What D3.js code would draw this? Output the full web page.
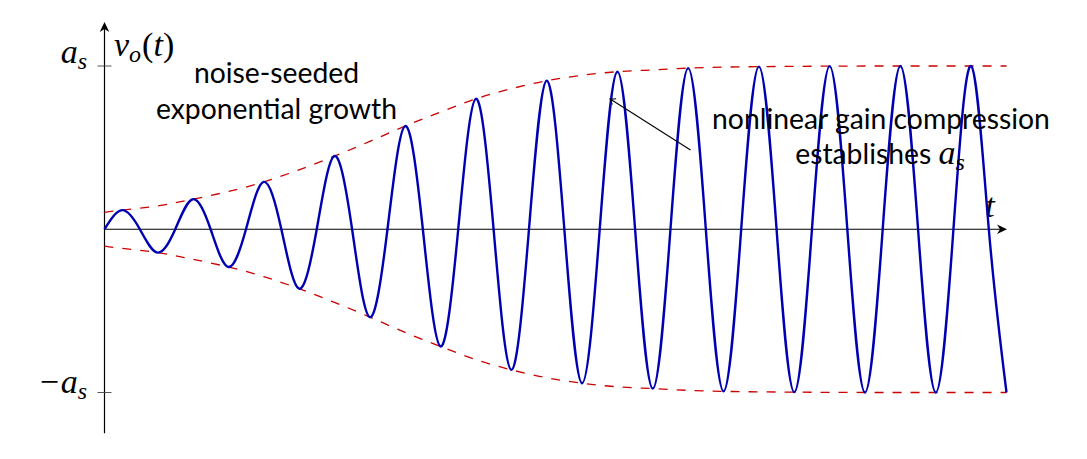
<!DOCTYPE html>
<html>
<head>
<meta charset="utf-8">
<script src="https://cdn.jsdelivr.net/npm/d3@7"></script>
<style>
  body { margin: 0; background: #fff; }
  svg { display: block; }
</style>
</head>
<body>
<svg id="chart" width="1087" height="459"></svg>
<script>
// time in oscillation periods, amplitude in units of a_s
const crossingTime = [0, 0.5, 1, 1.5, 2, 2.5, 3, 3.5, 4, 4.5, 5, 5.5, 6, 6.5,
  7, 7.5, 8, 8.5, 9, 9.5, 10, 10.5, 11, 11.5, 12, 12.5];
const extremaTime = [0.25, 0.75, 1.25, 1.75, 2.25, 2.75, 3.25, 3.75, 4.25, 4.75,
  5.25, 5.75, 6.25, 6.75, 7.25, 7.75, 8.25, 8.75, 9.25, 9.75, 10.25, 10.75,
  11.25, 11.75, 12.25, 12.75];
const extremaAmp = [0.117, -0.143, 0.184, -0.231, 0.290, -0.364, 0.448, -0.538,
  0.632, -0.718, 0.799, -0.861, 0.910, -0.943, 0.965, -0.976, 0.987, -0.993,
  0.996, -0.998, 0.999, -1.0, 1.0, -1.0, 1.0, -1.0];
const envelopeStart = 0.103;   // envelope height at t = 0

const yTicks = [1, -1];
const yTickLabels = ['a', '\u2212a'];

const svg = d3.select('#chart');

const x = d3.scaleLinear().domain([0, 12.75]).range([104.5, 1006.5]);
const y = d3.scaleLinear().domain([-1, 1]).range([392.5, 66]);

const sansFont = 'Lato, "Open Sans", sans-serif';
const mathFont = '"Liberation Serif", "DejaVu Serif", serif';
const mathSize = 34, subSize = 24;

// waveform points: zero crossings plus extrema
let wave = crossingTime.map(t => ({ t: t, a: 0 }));
extremaTime.forEach((t, i) => wave.push({ t: t, a: extremaAmp[i] }));
wave.sort((p, q) => p.t - q.t);

// envelope passes through the extrema
const upper = [{ t: 0, a: envelopeStart }]
  .concat(extremaTime.map((t, i) => ({ t: t, a: Math.abs(extremaAmp[i]) })));
const lower = upper.map(p => ({ t: p.t, a: -p.a }));

const line = d3.line()
  .x(d => x(d.t))
  .y(d => y(d.a))
  .curve(d3.curveNatural);

// axes
const x0 = x(0), y0 = y(0);
svg.append('line')
  .attr('x1', x0).attr('y1', y0).attr('x2', 1001).attr('y2', y0)
  .attr('stroke', '#000').attr('stroke-width', 1.2);
svg.append('line')
  .attr('x1', x0).attr('y1', y(-1.25)).attr('x2', x0).attr('y2', 28)
  .attr('stroke', '#000').attr('stroke-width', 1.2);

function arrowHead(tx, ty, angle) {
  svg.append('path')
    .attr('d', 'M0,0 L-10,-4.8 L-7,0 L-10,4.8 Z')
    .attr('transform', `translate(${tx},${ty}) rotate(${angle})`)
    .attr('fill', '#000');
}
arrowHead(1007, y0, 0);
arrowHead(x0, 22, -90);

// ticks and labels
svg.selectAll('.tick')
  .data(yTicks)
  .enter()
  .append('line')
  .attr('class', 'tick')
  .attr('x1', x0 - 7).attr('x2', x0 + 7)
  .attr('y1', d => y(d)).attr('y2', d => y(d))
  .attr('stroke', '#444').attr('stroke-width', 0.9);

yTicks.forEach((v, i) => {
  const t = svg.append('text')
    .attr('x', 87)
    .attr('y', y(v) + (v > 0 ? -3 : 0))
    .attr('text-anchor', 'end')
    .attr('font-family', mathFont)
    .attr('font-size', mathSize);
  t.append('tspan').attr('font-style', 'italic').text(yTickLabels[i]);
  t.append('tspan').attr('font-style', 'italic').attr('font-size', subSize)
    .attr('dy', 6).text('s');
});

// v_o(t)
const vlab = svg.append('text')
  .attr('x', 114).attr('y', 56)
  .attr('font-family', mathFont).attr('font-size', mathSize);
vlab.append('tspan').attr('font-style', 'italic').text('v');
vlab.append('tspan').attr('font-style', 'italic').attr('font-size', subSize)
  .attr('dy', 6).text('o');
vlab.append('tspan').attr('dy', -6).attr('dx', 1).text('(');
vlab.append('tspan').attr('font-style', 'italic').text('t');
vlab.append('tspan').text(')');

// t label
svg.append('text')
  .attr('x', 990).attr('y', 217)
  .attr('text-anchor', 'middle')
  .attr('font-family', mathFont).attr('font-style', 'italic')
  .attr('font-size', mathSize)
  .text('t');

// envelope
[upper, lower].forEach(env => {
  svg.append('path')
    .datum(env)
    .attr('d', line)
    .attr('fill', 'none')
    .attr('stroke', '#cc0000')
    .attr('stroke-width', 1.3)
    .attr('stroke-dasharray', '9,9');
});

// waveform
svg.append('path')
  .datum(wave)
  .attr('d', line)
  .attr('fill', 'none')
  .attr('stroke', '#0000b3')
  .attr('stroke-width', 2.4)
  .attr('stroke-linejoin', 'round');

// annotations
function sansLine(txt, cx, by, size) {
  return svg.append('text')
    .attr('x', cx).attr('y', by)
    .attr('text-anchor', 'middle')
    .attr('font-family', sansFont)
    .attr('font-size', size)
    .attr('fill', '#000')
    .text(txt);
}

// size the sans text so the long line matches the figure width
const probe = sansLine('nonlinear gain compression', 0, -100, 30);
const sansSize = 30 * 338 / probe.node().getComputedTextLength();
probe.remove();

sansLine('noise-seeded', 276.5, 83, sansSize);
sansLine('exponential growth', 276.5, 118.5, sansSize);
sansLine('nonlinear gain compression', 881, 128.5, sansSize);

const est = svg.append('text')
  .attr('x', 880).attr('y', 163.5)
  .attr('text-anchor', 'middle')
  .attr('font-family', sansFont)
  .attr('font-size', sansSize);
est.append('tspan').text('establishes ');
est.append('tspan').attr('font-family', mathFont).attr('font-style', 'italic')
  .attr('font-size', mathSize).text('a');
est.append('tspan').attr('font-family', mathFont).attr('font-style', 'italic')
  .attr('font-size', subSize).attr('dy', 6).text('s');

// arrow to the saturating peak
svg.append('line')
  .attr('x1', 690.5).attr('y1', 150).attr('x2', 611).attr('y2', 99.5)
  .attr('stroke', '#000').attr('stroke-width', 1.1);
svg.append('path')
  .attr('d', 'M-5,-3.5 Q-2,-1 0,0 Q-2,1 -5,3.5')
  .attr('transform', `translate(610,99) rotate(${Math.atan2(99 - 150, 610 - 690.5) * 180 / Math.PI})`)
  .attr('fill', 'none').attr('stroke', '#000').attr('stroke-width', 1);
</script>
</body>
</html>
